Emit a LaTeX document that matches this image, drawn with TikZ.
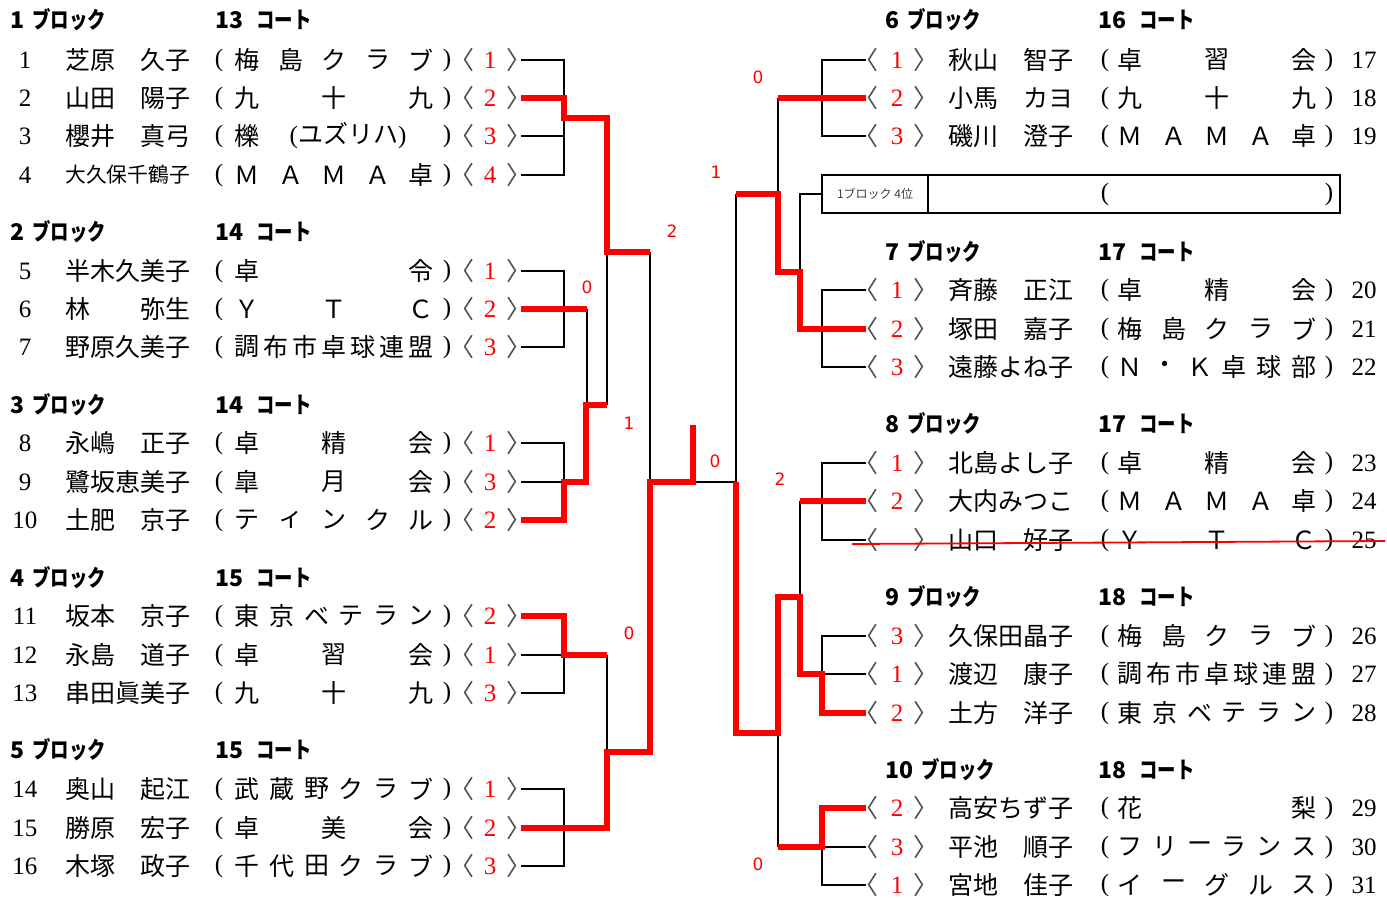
\documentclass[tikz,border=0pt]{standalone}
\usepackage{fontspec}
\setmainfont{Liberation Serif}
\newfontfamily\jpfont{Noto Sans CJK JP}
\newfontfamily\lblfont{DejaVu Sans}
\usetikzlibrary{positioning}

% clubs spread evenly between two x positions
\newcommand{\clubs}[5]{%
  \foreach \ch [count=\k] in {#5} {\xdef\nclub{\k}}
  \foreach \ch [count=\k] in {#5} {
    \node[jp] (c#1-\k) at ({#2+(\k-1)*(#3-#2)/(\nclub-1)},#4) {\ch};}
}
% left player row: number, y, name, rank
\newcommand{\lrow}[4]{%
  \node[num] (no#1) at (25,#2) {#1};
  \node[jp, anchor=west] (nm#1) at (65,#2) {#3};
  \node[num] (po#1) at (219,#2) {(};
  \node[num] (pc#1) at (447,#2) {)};
  \node[jp, text=black!70] (ao#1) at (462,#2) {〈};
  \node[rank] (rk#1) at (490,#2) {#4};
  \node[jp, text=black!70] (ac#1) at (519,#2) {〉};
  \coordinate (P#1) at (521,#2);
}
% right player row: number, y, rank, name
\newcommand{\rrow}[4]{%
  \coordinate (P#1) at (866,#2);
  \node[jp, text=black!70] (ao#1) at (866,#2) {〈};
  \node[rank] (rk#1) at (897,#2) {#3};
  \node[jp, text=black!70] (ac#1) at (926,#2) {〉};
  \node[jp, anchor=west] (nm#1) at (948,#2) {#4};
  \node[num] (po#1) at (1105,#2) {(};
  \node[num] (pc#1) at (1329,#2) {)};
  \node[num] (no#1) at (1364,#2) {#1};
}
% block / court heading
\newcommand{\blk}[5]{%
  \node[hdr] (bk#1) at (#2,#4) {#1\hspace{8pt}\scalebox{.8}[1]{ブロック}};
  \node[hdr] (ct#1) at (#3,#4) {#5\hspace{13pt}\scalebox{.8}[1]{コート}};
}

\begin{document}
\begin{tikzpicture}[x=1pt, y=-1pt,
  jp/.style={inner sep=0pt, font=\jpfont\fontsize{25}{25}\selectfont},
  num/.style={inner sep=0pt, font=\fontsize{25}{25}\selectfont},
  rank/.style={num, text=red},
  hdr/.style={inner sep=0pt, anchor=west, font=\jpfont\bfseries\fontsize{23}{23}\selectfont},
  score/.style={inner sep=0pt, text=red, font=\lblfont\fontsize{17}{17}\selectfont},
  wire/.style={line width=2.4pt},
  win/.style={line width=5.5pt, red}]
  \fill[white] (0,0) rectangle (1387,897);
  \useasboundingbox (0,0) rectangle (1387,897);

  % left half
  \blk{1}{10}{215}{20}{13}
  \lrow{1}{60}{芝原　久子}{1}      \clubs{1}{247}{421}{60}{梅,島,ク,ラ,ブ}
  \lrow{2}{98}{山田　陽子}{2}      \clubs{2}{247}{421}{98}{九,十,九}
  \lrow{3}{136}{櫻井　真弓}{3}
  \node[jp] (c3-1) at (247,136) {櫟};
  \node[jp] (c3-2) at (348,136) {{\rmfamily(}ユズリハ{\rmfamily)}};
  \lrow{4}{175}{{\fontsize{20.8}{21}\selectfont 大久保千鶴子}}{4} \clubs{4}{247}{421}{175}{Ｍ,Ａ,Ｍ,Ａ,卓}

  \blk{2}{10}{215}{232}{14}
  \lrow{5}{271}{半木久美子}{1}     \clubs{5}{247}{421}{271}{卓,令}
  \lrow{6}{309}{林　　弥生}{2}     \clubs{6}{247}{421}{309}{Ｙ,Ｔ,Ｃ}
  \lrow{7}{347}{野原久美子}{3}     \clubs{7}{247}{421}{347}{調,布,市,卓,球,連,盟}

  \blk{3}{10}{215}{405}{14}
  \lrow{8}{443}{永嶋　正子}{1}     \clubs{8}{247}{421}{443}{卓,精,会}
  \lrow{9}{482}{鷺坂恵美子}{3}     \clubs{9}{247}{421}{482}{皐,月,会}
  \lrow{10}{520}{土肥　京子}{2}    \clubs{10}{247}{421}{520}{テ,ィ,ン,ク,ル}

  \blk{4}{10}{215}{578}{15}
  \lrow{11}{616}{坂本　京子}{2}    \clubs{11}{247}{421}{616}{東,京,ベ,テ,ラ,ン}
  \lrow{12}{655}{永島　道子}{1}    \clubs{12}{247}{421}{655}{卓,習,会}
  \lrow{13}{693}{串田眞美子}{3}    \clubs{13}{247}{421}{693}{九,十,九}

  \blk{5}{10}{215}{750}{15}
  \lrow{14}{789}{奥山　起江}{1}    \clubs{14}{247}{421}{789}{武,蔵,野,ク,ラ,ブ}
  \lrow{15}{828}{勝原　宏子}{2}    \clubs{15}{247}{421}{828}{卓,美,会}
  \lrow{16}{866}{木塚　政子}{3}    \clubs{16}{247}{421}{866}{千,代,田,ク,ラ,ブ}

  % right half
  \blk{6}{885}{1098}{20}{16}
  \rrow{17}{60}{1}{秋山　智子}     \clubs{17}{1130}{1304}{60}{卓,習,会}
  \rrow{18}{98}{2}{小馬　カヨ}     \clubs{18}{1130}{1304}{98}{九,十,九}
  \rrow{19}{136}{3}{磯川　澄子}    \clubs{19}{1130}{1304}{136}{Ｍ,Ａ,Ｍ,Ａ,卓}

  \node[draw, line width=2.4pt, minimum width=518pt, minimum height=38pt, inner sep=0pt] (box) at (1081,194) {};
  \draw[wire] (928,175) -- (928,213);
  \node[inner sep=0pt, text=black!75, font=\jpfont\fontsize{12}{12}\selectfont] (q4) at (875,194) {1ブロック 4位};
  \node[num] (qo) at (1105,194) {(};
  \node[num] (qc) at (1329,194) {)};

  \blk{7}{885}{1098}{252}{17}
  \rrow{20}{290}{1}{斉藤　正江}    \clubs{20}{1130}{1304}{290}{卓,精,会}
  \rrow{21}{329}{2}{塚田　嘉子}    \clubs{21}{1130}{1304}{329}{梅,島,ク,ラ,ブ}
  \rrow{22}{367}{3}{遠藤よね子}    \clubs{22}{1130}{1304}{367}{Ｎ,・,Ｋ,卓,球,部}

  \blk{8}{885}{1098}{424}{17}
  \rrow{23}{463}{1}{北島よし子}    \clubs{23}{1130}{1304}{463}{卓,精,会}
  \rrow{24}{501}{2}{大内みつこ}    \clubs{24}{1130}{1304}{501}{Ｍ,Ａ,Ｍ,Ａ,卓}
  \rrow{25}{540}{}{山口　好子}     \clubs{25}{1130}{1304}{540}{Ｙ,Ｔ,Ｃ}

  \blk{9}{885}{1098}{597}{18}
  \rrow{26}{636}{3}{久保田晶子}    \clubs{26}{1130}{1304}{636}{梅,島,ク,ラ,ブ}
  \rrow{27}{674}{1}{渡辺　康子}    \clubs{27}{1130}{1304}{674}{調,布,市,卓,球,連,盟}
  \rrow{28}{713}{2}{土方　洋子}    \clubs{28}{1130}{1304}{713}{東,京,ベ,テ,ラ,ン}

  \blk{10}{885}{1098}{770}{18}
  \rrow{29}{808}{2}{高安ちず子}    \clubs{29}{1130}{1304}{808}{花,梨}
  \rrow{30}{847}{3}{平池　順子}    \clubs{30}{1130}{1304}{847}{フ,リ,ー,ラ,ン,ス}
  \rrow{31}{885}{1}{宮地　佳子}    \clubs{31}{1130}{1304}{885}{イ,ー,グ,ル,ス}

  % bracket, left
  \draw[wire] (P1) -| (564,175) -- (P4);
  \draw[wire] (P3) -- (564,136);
  \draw[wire] (P5) -| (564,347) -- (P7);
  \draw[wire] (587,309) -- (587,405);
  \draw[wire] (P8) -| (564,520) -- (P10);
  \draw[wire] (P9) -- (564,482);
  \draw[wire] (607,405) -- (607,252);
  \draw[wire] (650,252) -- (650,482);
  \draw[wire] (P11) -| (564,693) -- (P13);
  \draw[wire] (P12) -- (564,655);
  \draw[wire] (607,655) -- (607,752);
  \draw[wire] (P14) -| (564,866) -- (P16);
  \draw[wire] (693,482) -- (736,482);
  \draw[win] (P2) -| (564,118) -| (607,252) -- (650,252);
  \draw[win] (P6) -- (587,309);
  \draw[win] (P10) -| (564,482) -| (586,405) -- (607,405);
  \draw[win] (P11) -| (564,655) -- (607,655);
  \draw[win] (P15) -| (607,752) -| (650,482) -- (693,482);
  \draw[win] (693,425) -- (693,485);

  % bracket, right
  \draw[wire] (736,482) -- (736,194);
  \draw[wire] (778,98) -- (778,194);
  \draw[wire] (P17) -| (822,136) -- (P19);
  \draw[wire] (box.west) -| (800,272);
  \draw[wire] (P20) -| (822,367) -- (P22);
  \draw[wire] (P23) -| (822,540) -- (P25);
  \draw[wire] (800,501) -- (800,597);
  \draw[wire] (P26) -| (822,713) -- (P28);
  \draw[wire] (P27) -- (822,674);
  \draw[wire] (778,733) -- (778,847);
  \draw[wire] (P29) -| (822,885) -- (P31);
  \draw[wire] (P30) -- (822,847);
  \draw[win] (P18) -- (778,98);
  \draw[win] (P21) -| (800,272) -| (778,194) -- (736,194);
  \draw[win] (P24) -- (800,501);
  \draw[win] (P28) -| (822,674) -| (800,597) -| (778,733) -| (736,482);
  \draw[win] (P29) -| (822,847) -- (778,847);

  % 25 withdrawn
  \draw[red, line width=1.8pt] (852,544) -- (1385,541);

  % scores
  \node[score] (s1) at (672,231) {2};
  \node[score] (s2) at (587,287) {0};
  \node[score] (s3) at (629,423) {1};
  \node[score] (s4) at (629,633) {0};
  \node[score] (s5) at (715,461) {0};
  \node[score] (s6) at (758,77) {0};
  \node[score] (s7) at (716,172) {1};
  \node[score] (s8) at (780,479) {2};
  \node[score] (s9) at (758,864) {0};
\end{tikzpicture}
\end{document}
